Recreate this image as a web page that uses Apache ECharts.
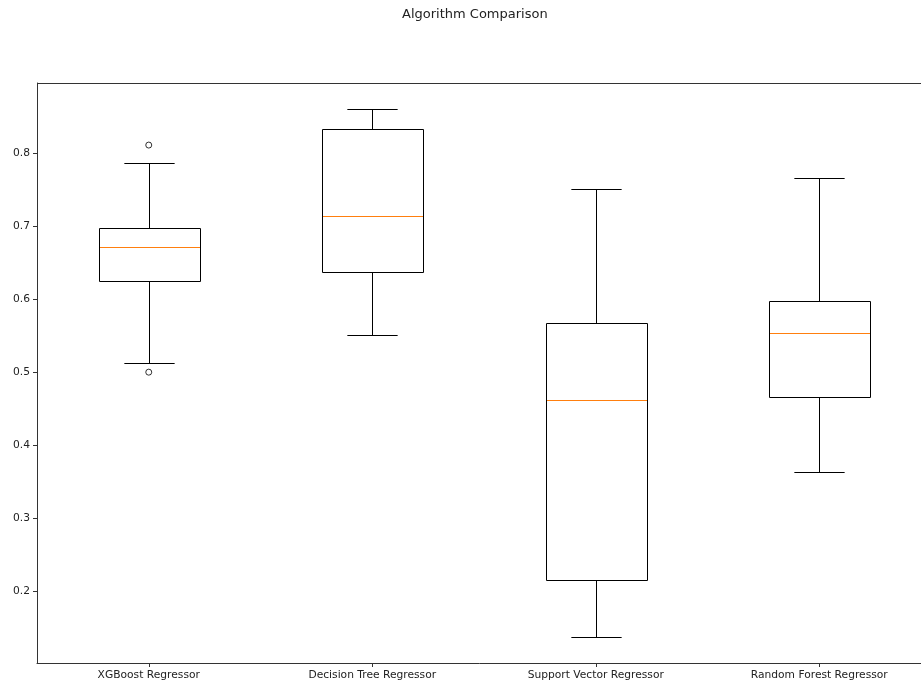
<!DOCTYPE html>
<html>
<head>
<meta charset="utf-8">
<script src="https://cdn.jsdelivr.net/npm/echarts@6/dist/echarts.min.js"></script>
<style>
  html, body { margin: 0; padding: 0; background: #fff; }
  #chart { width: 921px; height: 686px; }
</style>
</head>
<body>
<div id="chart"></div>
<script>
var categories = ["XGBoost Regressor", "Decision Tree Regressor", "Support Vector Regressor", "Random Forest Regressor"];
var whiskerLow = [0.513, 0.551, 0.137, 0.363];
var q1 = [0.625, 0.637, 0.216, 0.466];
var median = [0.671, 0.714, 0.462, 0.553];
var q3 = [0.697, 0.833, 0.568, 0.597];
var whiskerHigh = [0.786, 0.860, 0.751, 0.766];
var outliers = [[0, 0.811], [0, 0.500]];
var yTicks = [0.2, 0.3, 0.4, 0.5, 0.6, 0.7, 0.8];

var boxData = categories.map(function (c, i) {
  return [i, whiskerLow[i], q1[i], median[i], q3[i], whiskerHigh[i]];
});

var fontFamily = "DejaVu Sans";

function crisp(v) {
  return Math.round(v) + 0.5;
}

function renderBox(params, api) {
  var i = api.value(0);
  var band = api.size([1, 0])[0];
  var half = band * 0.225;
  var capHalf = band * 0.1125;
  var x = crisp(api.coord([i, 0])[0]);
  var yLo = crisp(api.coord([i, api.value(1)])[1]);
  var yQ1 = crisp(api.coord([i, api.value(2)])[1]);
  var yMed = Math.round(api.coord([i, api.value(3)])[1]);
  var yQ3 = crisp(api.coord([i, api.value(4)])[1]);
  var yHi = crisp(api.coord([i, api.value(5)])[1]);
  var x0 = Math.round(x - half), x1 = Math.round(x + half);
  var line = { stroke: "#000", lineWidth: 1 };
  return {
    type: "group",
    children: [
      { type: "line", shape: { x1: x, y1: yQ1, x2: x, y2: yLo }, style: line },
      { type: "line", shape: { x1: x, y1: yQ3, x2: x, y2: yHi }, style: line },
      { type: "line", shape: { x1: x - capHalf, y1: yLo, x2: x + capHalf, y2: yLo }, style: line },
      { type: "line", shape: { x1: x - capHalf, y1: yHi, x2: x + capHalf, y2: yHi }, style: line },
      { type: "rect", shape: { x: x0 + 0.5, y: yQ3, width: x1 - x0, height: yQ1 - yQ3 },
        style: { fill: "none", stroke: "#000", lineWidth: 1 } },
      // median drawn as a 1px filled strip
      { type: "rect", z2: 10, shape: { x: x0 + 1, y: yMed, width: x1 - x0 - 1, height: 1 },
        style: { fill: "#ff7f0e" } }
    ]
  };
}

var chart = echarts.init(document.getElementById("chart"));
chart.setOption({
  animation: false,
  backgroundColor: "#fff",
  title: {
    text: "Algorithm Comparison",
    left: 397,
    top: 3,
    textStyle: { fontFamily: fontFamily, fontSize: 13, fontWeight: "normal", color: "#222" }
  },
  grid: { left: 37, top: 83, bottom: 23, width: 894, outerBoundsMode: "none", containLabel: false },
  xAxis: {
    type: "category",
    data: categories,
    boundaryGap: true,
    axisLine: { show: true, lineStyle: { color: "#333", width: 1 } },
    axisTick: { show: true, alignWithLabel: true, length: 4, lineStyle: { color: "#333" } },
    axisLabel: { fontFamily: fontFamily, fontSize: 10.7, color: "#222", margin: 7 },
    splitLine: { show: false }
  },
  yAxis: {
    type: "value",
    min: 0.1017,
    max: 0.896,
    axisLine: { show: true, lineStyle: { color: "#333", width: 1 } },
    axisTick: { show: true, length: 4, customValues: yTicks, lineStyle: { color: "#333" } },
    axisLabel: {
      fontFamily: fontFamily, fontSize: 10.7, color: "#222", margin: 7,
      customValues: yTicks,
      formatter: function (v) { return v.toFixed(1); }
    },
    splitLine: { show: false }
  },
  graphic: [
    { type: "line", shape: { x1: 37, y1: 83.5, x2: 921, y2: 83.5 }, style: { stroke: "#333", lineWidth: 1 } }
  ],
  series: [
    {
      type: "custom",
      renderItem: renderBox,
      encode: { x: 0, y: [1, 2, 3, 4, 5] },
      data: boxData
    },
    {
      type: "scatter",
      data: outliers,
      symbol: "circle",
      symbolSize: 6,
      itemStyle: { color: "#fff", borderColor: "#000", borderWidth: 1 }
    }
  ]
});
</script>
</body>
</html>
